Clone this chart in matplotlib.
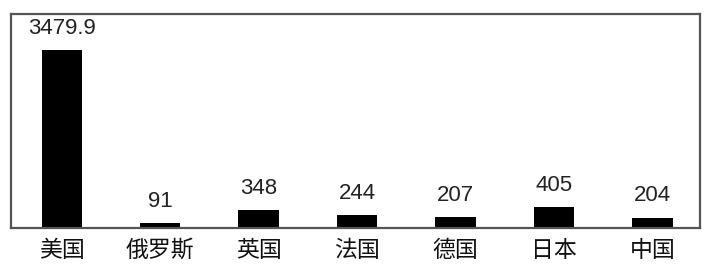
import matplotlib
matplotlib.use("Agg")
import matplotlib.pyplot as plt

plt.rcParams["font.family"] = ["Noto Sans CJK SC", "DejaVu Sans"]

countries = ["美国", "俄罗斯", "英国", "法国", "德国", "日本", "中国"]
values = [3479.9, 91, 348, 244, 207, 405, 204]
value_labels = ["3479.9", "91", "348", "244", "207", "405", "204"]


def make_plot():
    fig = plt.figure(figsize=(7.07, 2.66), dpi=100)
    ax = fig.add_axes([0.0156, 0.143, 0.974, 0.804])

    x = list(range(len(countries)))
    ax.bar(x, values, width=0.41, color="black")

    for xi, v, lab in zip(x, values, value_labels):
        ax.annotate(lab, (xi, v), xytext=(0, 8), textcoords="offset points",
                    ha="center", va="bottom", fontsize=16,
                    family="Liberation Sans", color="#222222")

    ax.set_xlim(-0.515, 6.48)
    ax.set_ylim(0, 4184)
    ax.set_xticks(x)
    ax.set_xticklabels(countries, fontsize=16.5, color="#111111",
                       fontweight="medium")
    ax.tick_params(axis="x", length=0, pad=8)
    ax.set_yticks([])
    for s in ax.spines.values():
        s.set_color("#555555")
        s.set_linewidth(1.6)

    fig.savefig("out.png", dpi=100)


if __name__ == "__main__":
    make_plot()
